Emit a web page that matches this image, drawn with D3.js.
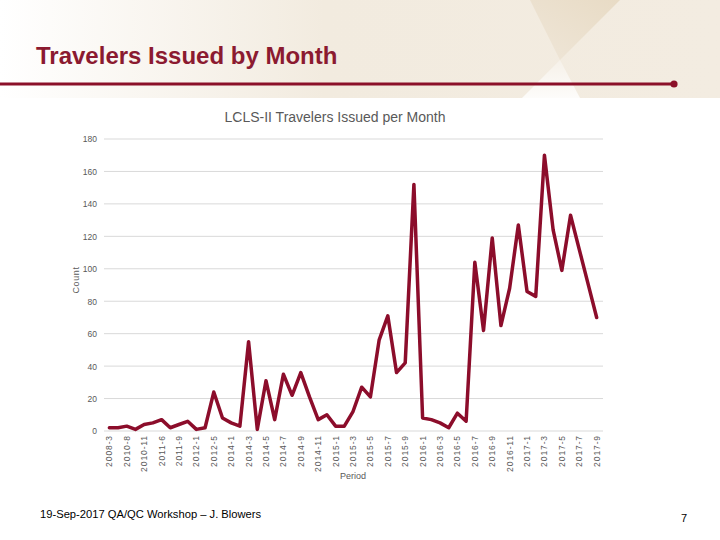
<!DOCTYPE html>
<html>
<head>
<meta charset="utf-8">
<script src="https://cdn.jsdelivr.net/npm/d3@7"></script>
<style>
  html, body { margin: 0; padding: 0; background: #ffffff; }
  svg { display: block; }
</style>
</head>
<body>
<svg id="chart" width="720" height="540"></svg>
<script>
// ---- data ----
const periods = [
  "2008-3","2010-7","2010-8","2010-9","2010-11","2011-3","2011-6","2011-7","2011-9","2011-11",
  "2012-1","2012-3","2012-5","2013-8","2014-1","2014-2","2014-3","2014-4","2014-5","2014-6",
  "2014-7","2014-8","2014-9","2014-10","2014-11","2014-12","2015-1","2015-2","2015-3","2015-4",
  "2015-5","2015-6","2015-7","2015-8","2015-9","2015-10","2016-1","2016-2","2016-3","2016-4",
  "2016-5","2016-6","2016-7","2016-8","2016-9","2016-10","2016-11","2016-12","2017-1","2017-2",
  "2017-3","2017-4","2017-5","2017-6","2017-7","2017-8","2017-9"
];
const counts = [
  2,2,3,1,4,5,7,2,4,6,
  1,2,24,8,5,3,55,1,31,7,
  35,22,36,21,7,10,3,3,12,27,
  21,56,71,36,42,152,8,7,5,2,
  11,6,104,62,119,65,88,127,86,83,
  170,124,99,133,112,91,70
];
const yTicks = [0,20,40,60,80,100,120,140,160,180];

const svg = d3.select("#chart");

// ---- header background ----
const defs = svg.append("defs");
const g1 = defs.append("linearGradient").attr("id","hdr").attr("x1","0").attr("x2","1").attr("y1","0").attr("y2","0");
g1.append("stop").attr("offset","0").attr("stop-color","#ffffff");
g1.append("stop").attr("offset","0.45").attr("stop-color","#f2ebdf");
g1.append("stop").attr("offset","1").attr("stop-color","#f3ece1");
const g2 = defs.append("linearGradient").attr("id","tri").attr("x1","0").attr("x2","1").attr("y1","1").attr("y2","0");
g2.append("stop").attr("offset","0").attr("stop-color","#efe6d8");
g2.append("stop").attr("offset","1").attr("stop-color","#e8dbc5");
const g3 = defs.append("linearGradient").attr("id","tri2").attr("x1","0").attr("x2","0").attr("y1","0").attr("y2","1");
g3.append("stop").attr("offset","0").attr("stop-color","#f6f1e9");
g3.append("stop").attr("offset","1").attr("stop-color","#fdfcfa");

svg.append("rect").attr("x",0).attr("y",0).attr("width",720).attr("height",98).attr("fill","url(#hdr)");
svg.append("polygon").attr("points","530,0 620,0 560,60").attr("fill","url(#tri)");
svg.append("polygon").attr("points","560,60 522,98 580,98").attr("fill","url(#tri2)");

// title + rule
svg.append("text").attr("x",36).attr("y",64)
  .attr("font-family","'Liberation Sans', Arial, sans-serif")
  .attr("font-weight","bold").attr("font-size",24)
  .attr("fill","#8b1a30").text("Travelers Issued by Month");
svg.append("line").attr("x1",0).attr("x2",674).attr("y1",84).attr("y2",84)
  .attr("stroke","#8b1029").attr("stroke-width",3);
svg.append("circle").attr("cx",674).attr("cy",84).attr("r",3.6).attr("fill","#8b1029");

// ---- chart ----
const x = d3.scaleBand().domain(periods).range([105, 601]).paddingInner(0).paddingOuter(0);
const y = d3.scaleLinear().domain([0,180]).range([431, 139]);
const cx = d => x(d) + x.bandwidth()/2;

svg.append("text").attr("x",335).attr("y",122).attr("text-anchor","middle")
  .attr("font-family","'Liberation Sans', Arial, sans-serif").attr("font-size",14)
  .attr("fill","#595959").text("LCLS-II Travelers Issued per Month");

// gridlines
svg.append("g").selectAll("line").data(yTicks).join("line")
  .attr("x1",104).attr("x2",603)
  .attr("y1",d=>y(d)).attr("y2",d=>y(d))
  .attr("stroke","#d9d9d9").attr("stroke-width",1);

// y axis labels
const yAxis = d3.axisLeft(y).tickValues(yTicks).tickSize(0).tickPadding(0);
const gy = svg.append("g").attr("transform","translate(97,0)").call(yAxis);
gy.select(".domain").remove();
gy.selectAll("text").attr("font-family","'Liberation Sans', Arial, sans-serif")
  .attr("font-size",8.5).attr("fill","#595959").attr("dy","0.35em");

// x axis labels (every other category)
const labeled = periods.filter((d,i)=> i % 2 === 0);
const xAxis = d3.axisBottom(x).tickValues(labeled).tickSize(0).tickPadding(0);
const gx = svg.append("g").attr("transform","translate(0,431)").call(xAxis);
gx.select(".domain").remove();
gx.selectAll("text")
  .attr("font-family","'Liberation Sans', Arial, sans-serif")
  .attr("font-size",8.5).attr("fill","#595959")
  .attr("letter-spacing","0.9px")
  .attr("text-anchor","end")
  .attr("transform","translate(3,4) rotate(-90)")
  .attr("x",0).attr("y",0).attr("dy",0);

// axis titles
svg.append("text").attr("x",353).attr("y",479).attr("text-anchor","middle")
  .attr("font-family","'Liberation Sans', Arial, sans-serif").attr("font-size",9)
  .attr("fill","#595959").text("Period");
svg.append("text").attr("transform","translate(79,280) rotate(-90)").attr("text-anchor","middle")
  .attr("font-family","'Liberation Sans', Arial, sans-serif").attr("font-size",9)
  .attr("letter-spacing","0.6px")
  .attr("fill","#595959").text("Count");

// line
const line = d3.line().x((d,i)=>cx(periods[i])).y(d=>y(d));
svg.append("path").datum(counts).attr("d",line)
  .attr("fill","none").attr("stroke","#8c0d2b").attr("stroke-width",3.5)
  .attr("stroke-linejoin","round").attr("stroke-linecap","round");

// footer
svg.append("text").attr("x",40).attr("y",518)
  .attr("font-family","'Liberation Sans', Arial, sans-serif").attr("font-size",11.2)
  .attr("fill","#000").text("19-Sep-2017 QA/QC Workshop \u2013 J. Blowers");
svg.append("text").attr("x",681).attr("y",522)
  .attr("font-family","'Liberation Sans', Arial, sans-serif").attr("font-size",11)
  .attr("fill","#000").text("7");
</script>
</body>
</html>
